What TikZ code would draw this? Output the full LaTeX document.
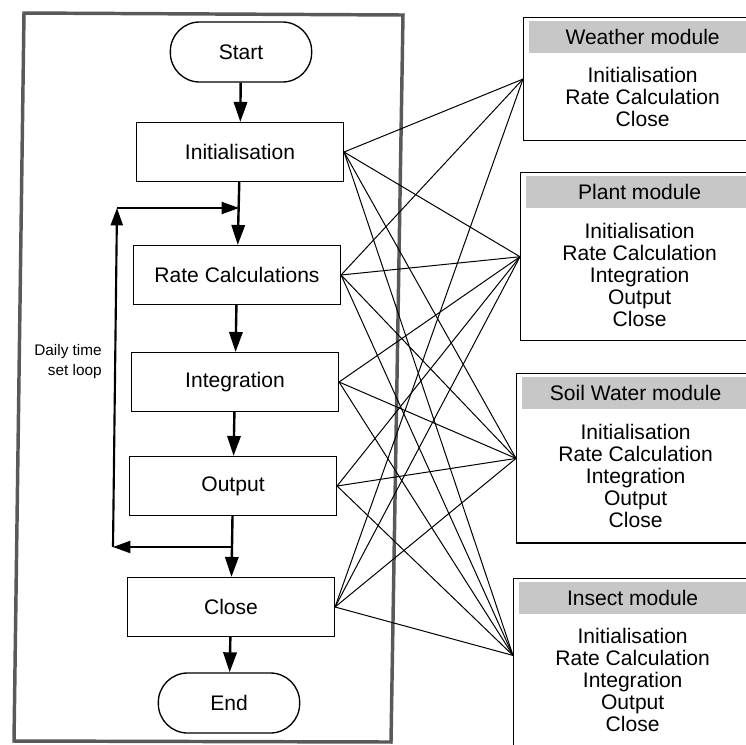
\documentclass[tikz,border=0pt]{standalone}
\usepackage{fontspec}
\setmainfont{Liberation Sans}
\usetikzlibrary{calc, positioning}
\usetikzlibrary{arrows.meta}

\tikzset{
  term/.style={draw, line width=1pt, rounded corners=22pt, minimum width=106pt, minimum height=45pt, font=\fontsize{15.8}{16.5}\selectfont},
  stepbox/.style={draw, line width=1.1pt, minimum width=155pt, minimum height=44pt, font=\fontsize{15.8}{16.5}\selectfont},
  flow/.style={line width=1.8pt, -{Triangle[length=15pt, width=10pt]}},
  loopflow/.style={line width=1.6pt, -{Triangle[length=13pt, width=9pt]}},
  module/.style={draw, line width=1.1pt, anchor=north west, minimum width=178.5pt, inner sep=0pt},
  modhead/.style={fill=black!22, anchor=north west, minimum width=171pt, minimum height=24pt, inner sep=0pt, font=\fontsize{15.8}{16.5}\selectfont},
  modbody/.style={align=center, inner sep=0pt, font=\fontsize{15.8}{16.5}\selectfont},
  link/.style={line width=0.75pt},
  frame/.style={draw=black!65, line width=2.6pt}
}

\begin{document}
\begin{tikzpicture}[x=0.75pt, y=-0.75pt]
\useasboundingbox (0,0) rectangle (746,744);

\draw[frame] (24,13) -- (403,15) -- (391,742) -- (14,741) -- cycle;

\node[term] (start) at (241,52) {Start};
\node[stepbox] (init) at (240,152) {Initialisation};
\node[stepbox] (rate) at (237,275) {Rate Calculations};
\node[stepbox] (integ) at (235,382) {Integration};
\node[stepbox] (output) at (233,486) {Output};
\node[stepbox] (close) at (231,607) {Close};
\node[term] (finish) at (229,703) {End};

\draw[flow] (start) -- (init);
\draw[flow] (init) -- (rate);
\draw[flow] (rate) -- (integ);
\draw[flow] (integ) -- (output);
\draw[flow] (output) -- (close);
\draw[flow] (close) -- (finish);

\coordinate (jointop) at (239,208);
\coordinate (looptop) at (117,208);
\coordinate (loopbot) at (113,547);
\coordinate (joinbot) at (232,547);
\draw[loopflow] (joinbot) -- (loopbot);
\draw[loopflow] (loopbot) -- (looptop);
\draw[loopflow] (looptop) -- (jointop);
\node[align=right, font=\fontsize{11.5}{15}\selectfont] (looplabel) at (68,362) {Daily time\\set loop};

% modules
\node[module, minimum height=92pt] (weather) at (523,17) {};
\node[modhead] (weather-head) at ([shift={(4pt,-2.5pt)}]weather.north west) {Weather module};
\node[modbody] (weather-body) at ($(weather-head.south)!0.5!(weather.south)$) {Initialisation\\Rate Calculation\\Close};

\node[module, minimum height=126pt] (plant) at (520,172) {};
\node[modhead] (plant-head) at ([shift={(4pt,-2.5pt)}]plant.north west) {Plant module};
\node[modbody] (plant-body) at ($(plant-head.south)!0.5!(plant.south)$) {Initialisation\\Rate Calculation\\Integration\\Output\\Close};

\node[module, minimum height=127pt] (soil) at (516,373) {};
\node[modhead] (soil-head) at ([shift={(4pt,-2.5pt)}]soil.north west) {Soil Water module};
\node[modbody] (soil-body) at ($(soil-head.south)!0.5!(soil.south)$) {Initialisation\\Rate Calculation\\Integration\\Output\\Close};

\node[module, minimum height=125pt] (insect) at (513,578) {};
\node[modhead] (insect-head) at ([shift={(4pt,-2.5pt)}]insect.north west) {Insect module};
\node[modbody] (insect-body) at ($(insect-head.south)!0.5!(insect.south)$) {Initialisation\\Rate Calculation\\Integration\\Output\\Close};

\foreach \s in {init, rate, close}
  \draw[link] (\s.east) -- (weather.west);
\foreach \s in {init, rate, integ, output, close} {
  \draw[link] (\s.east) -- (plant.west);
  \draw[link] (\s.east) -- (soil.west);
  \draw[link] (\s.east) -- ([yshift=5pt]insect.west);
}

\end{tikzpicture}
\end{document}
